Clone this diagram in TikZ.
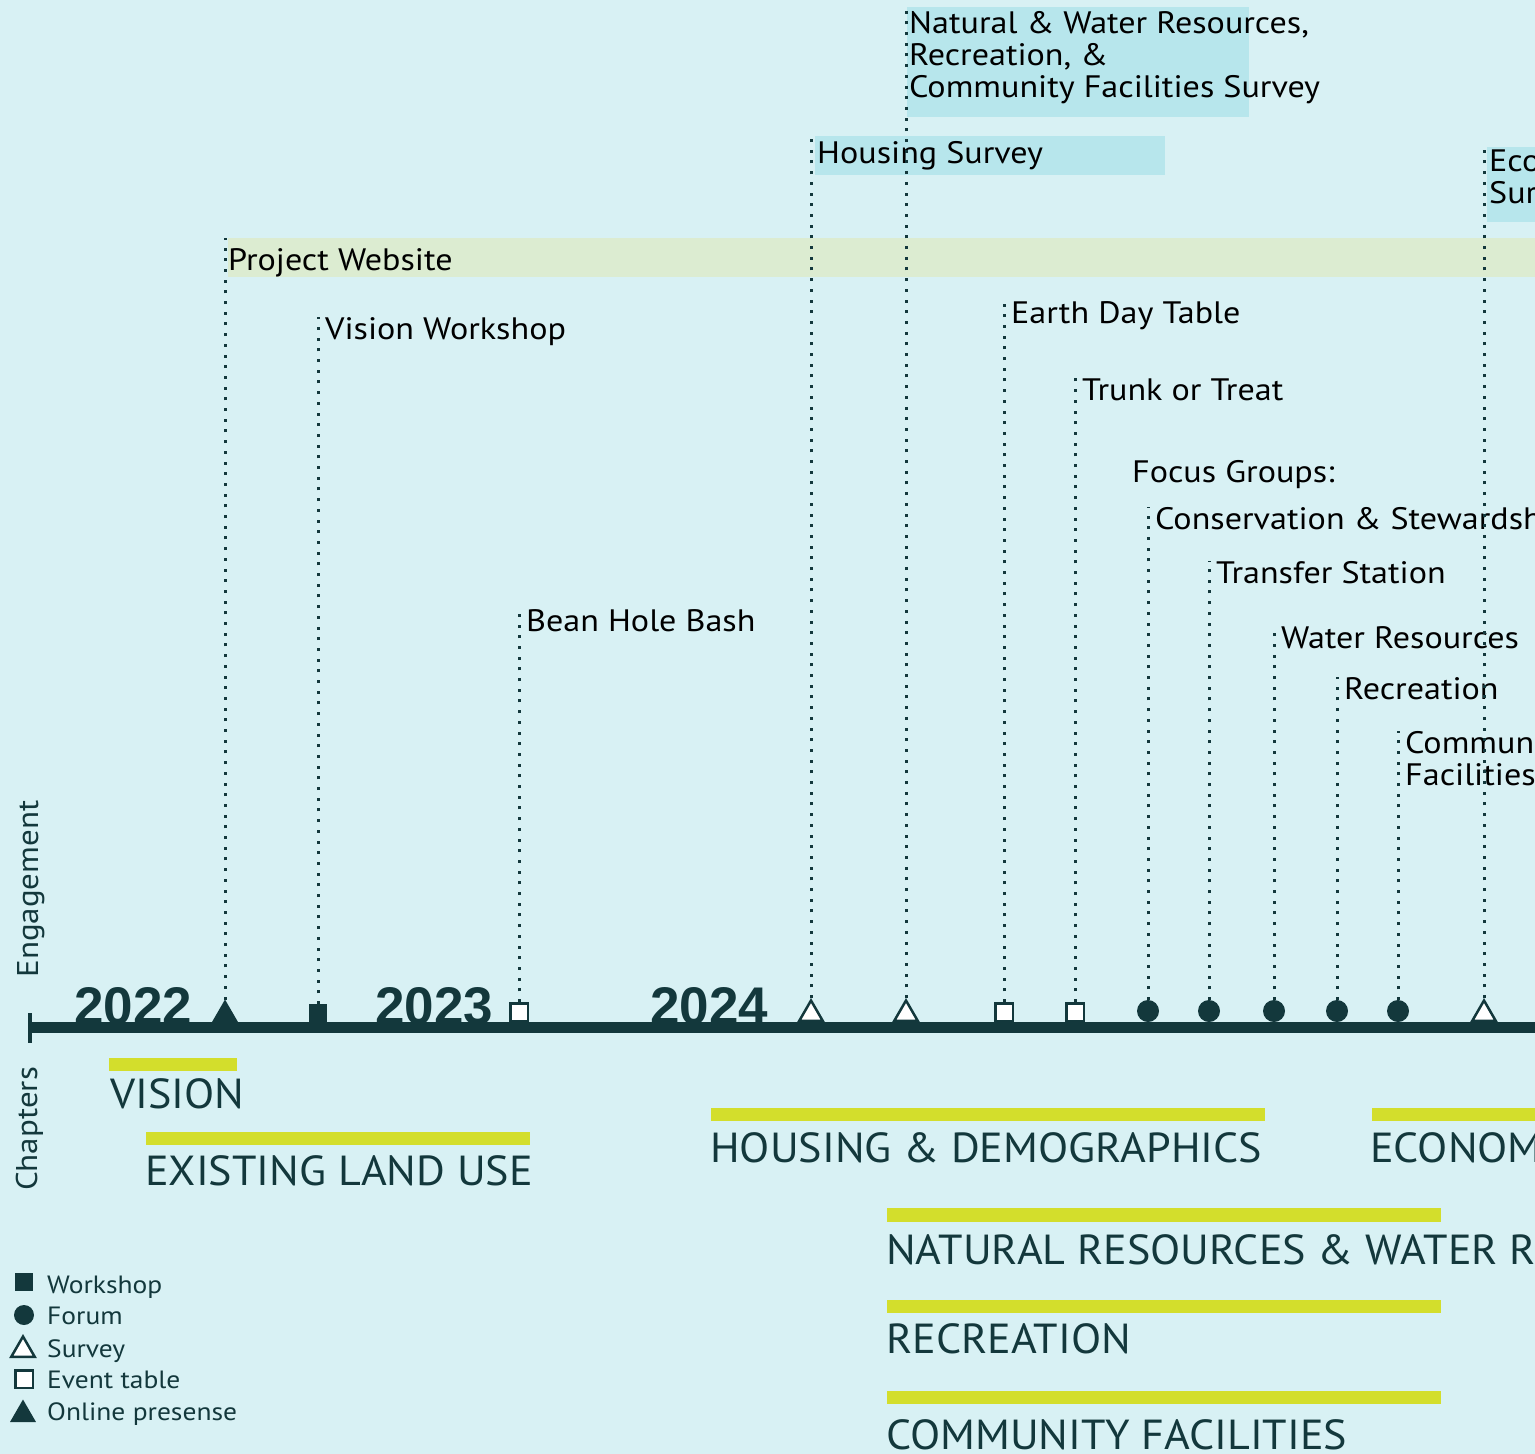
\documentclass[tikz,border=0pt]{standalone}
\usepackage{fontspec}
\setmainfont{PT Sans}[FakeStretch=1.1]
\newfontfamily\chapfont{PT Sans}[FakeStretch=1.05]
\newfontfamily\yearfont{Liberation Sans}
\usetikzlibrary{shapes.geometric}

\definecolor{paleaqua}{RGB}{216,241,244}
\definecolor{deepteal}{RGB}{19,56,60}
\definecolor{chartreuse}{RGB}{211,222,44}
\definecolor{webgreen}{RGB}{220,236,209}
\definecolor{surveyblue}{RGB}{183,230,236}

\tikzset{
  dotline/.style={deepteal, line width=3pt, dash pattern=on 3pt off 7.7pt},
  lbl/.style={anchor=base west, inner xsep=7pt, inner ysep=0pt, text=black,
    font=\fontsize{31}{32}\selectfont},
  band/.style={anchor=north west, inner sep=0pt, minimum height=39pt},
  chapter/.style={anchor=base west, inner sep=0pt, text=deepteal,
    font=\chapfont\fontsize{42}{46}\selectfont},
  year/.style={anchor=base west, inner sep=0pt, text=deepteal,
    font=\yearfont\bfseries\fontsize{53}{53}\selectfont},
  legend/.style={anchor=base west, inner sep=0pt, text=deepteal,
    font=\fontsize{25}{27}\selectfont},
  sidelbl/.style={rotate=90, anchor=base, inner sep=0pt, text=deepteal,
    font=\fontsize{30}{32}\selectfont},
  online/.style={regular polygon, regular polygon sides=3, fill=deepteal,
    inner sep=0pt, outer sep=0pt, minimum size=30pt, anchor=south},
  survey/.style={regular polygon, regular polygon sides=3, draw=deepteal,
    line width=2.5pt, fill=white, inner sep=0pt, minimum size=27pt, anchor=south},
  workshop/.style={rectangle, fill=deepteal, inner sep=0pt, outer sep=0pt,
    minimum size=18pt, anchor=south},
  evtable/.style={rectangle, draw=deepteal, line width=2.5pt, fill=white,
    inner sep=0pt, minimum size=17.5pt, anchor=south},
  forum/.style={circle, fill=deepteal, inner sep=0pt, outer sep=0pt,
    minimum size=22pt, anchor=south}
}

\begin{document}
\begin{tikzpicture}[x=1pt, y=-1pt]
\clip (0,0) rectangle (1535,1454);
\useasboundingbox (0,0) rectangle (1535,1454);
\fill[paleaqua] (0,0) rectangle (1535,1454);

% timeline
\coordinate (t0) at (30,1027);
\coordinate (t1) at (1545,1027);
\draw[deepteal, line width=11pt] (t0) -- (t1);
\draw[deepteal, line width=4pt] (30,1013) -- (30,1043);

\node[year] (y22) at (74,1024) {2022};
\node[year] (y23) at (375,1024) {2023};
\node[year] (y24) at (650,1024) {2024};

% engagement markers
\node[online] (web) at (225,1022) {};
\node[workshop] (vws) at (318,1022) {};
\node[evtable] (bean) at (519,1022) {};
\node[survey] (hsv) at (811,1022) {};
\node[survey] (nsv) at (906,1022) {};
\node[evtable] (earth) at (1004,1022) {};
\node[evtable] (trunk) at (1075,1022) {};
\node[forum] (cons) at (1148,1022) {};
\node[forum] (trans) at (1209,1022) {};
\node[forum] (water) at (1274,1022) {};
\node[forum] (rec) at (1337,1022) {};
\node[forum] (comm) at (1398,1022) {};
\node[survey] (esv) at (1484,1022) {};

% engagement labels
\node[band, fill=webgreen, minimum width=1330pt] (siteband) at (228,238) {};
\node[lbl, inner xsep=0pt] (sitel) at (228,270) {Project Website};
\node[band, fill=surveyblue, minimum width=350pt] (hband) at (815,136) {};
\node[lbl, inner xsep=0pt] (hsvl) at (817,163) {Housing Survey};
\node[band, fill=surveyblue, minimum width=342pt, minimum height=110pt] (nband) at (907,7) {};
\node[lbl, inner xsep=0pt, anchor=north west, align=left] (nsvl) at (909,11)
  {Natural \& Water Resources,\\Recreation, \&\\Community Facilities Survey};
\node[band, fill=surveyblue, minimum width=60pt, minimum height=75pt] (eband) at (1487,147) {};
\node[lbl, inner xsep=0pt, anchor=north west, align=left] (esvl) at (1489,150)
  {Economy\\Survey};

\node[lbl] (vwsl) at (318,339) {Vision Workshop};
\node[lbl] (beanl) at (519,631) {Bean Hole Bash};
\node[lbl] (earthl) at (1004,323) {Earth Day Table};
\node[lbl] (trunkl) at (1075,400) {Trunk or Treat};
\node[lbl, inner xsep=0pt] (focus) at (1132,482) {Focus Groups:};
\node[lbl] (consl) at (1148,529) {Conservation \& Stewardship};
\node[lbl] (transl) at (1209,583) {Transfer Station};
\node[lbl] (waterl) at (1274,648) {Water Resources};
\node[lbl] (recl) at (1337,699) {Recreation};
\node[lbl, anchor=north west, align=left] (comml) at (1398,731) {Community\\Facilities};

\draw[dotline] (web.north) -- (web.north |- siteband.north);
\draw[dotline] (vws.north) -- (vws.north |- vwsl.north);
\draw[dotline] (bean.north) -- (bean.north |- beanl.north);
\draw[dotline] (hsv.north) -- (hsv.north |- hband.north);
\draw[dotline] (nsv.north) -- (nsv.north |- nband.north);
\draw[dotline] (earth.north) -- (earth.north |- earthl.north);
\draw[dotline] (trunk.north) -- (trunk.north |- trunkl.north);
\draw[dotline] (cons.north) -- (cons.north |- consl.north);
\draw[dotline] (trans.north) -- (trans.north |- transl.north);
\draw[dotline] (water.north) -- (water.north |- waterl.north);
\draw[dotline] (rec.north) -- (rec.north |- recl.north);
\draw[dotline] (comm.north) -- (comm.north |- comml.north);
\draw[dotline] (esv.north) -- (esv.north |- eband.north);

% chapters
\fill[chartreuse] (109,1058) rectangle (237,1071);
\node[chapter] (vision) at (110,1108) {VISION};
\fill[chartreuse] (146,1132) rectangle (530,1145);
\node[chapter] (landuse) at (145,1185) {EXISTING LAND USE};
\fill[chartreuse] (711,1108) rectangle (1265,1121);
\node[chapter] (housing) at (710,1162) {HOUSING \& DEMOGRAPHICS};
\fill[chartreuse] (1372,1108) rectangle (1545,1121);
\node[chapter] (economy) at (1370,1162) {ECONOMY};
\fill[chartreuse] (887,1208) rectangle (1441,1222);
\node[chapter] (natural) at (886,1264) {NATURAL RESOURCES \& WATER RESOURCES};
\fill[chartreuse] (887,1300) rectangle (1441,1313);
\node[chapter] (recreation) at (886,1353) {RECREATION};
\fill[chartreuse] (887,1391) rectangle (1441,1404);
\node[chapter] (facilities) at (886,1449) {COMMUNITY FACILITIES};

\node[sidelbl] (eng) at (38,889) {Engagement};
\node[sidelbl] (chap) at (37,1129) {Chapters};

% legend
\node[workshop] (kws) at (24,1291) {};
\node[legend] (kwsl) at (47,1293) {Workshop};
\node[forum, minimum size=20pt] (kfo) at (24,1325) {};
\node[legend] (kfol) at (47,1324) {Forum};
\node[survey] (ksv) at (23,1358) {};
\node[legend] (ksvl) at (47,1357) {Survey};
\node[evtable] (ket) at (24,1389) {};
\node[legend] (ketl) at (47,1388) {Event table};
\node[online] (kon) at (23,1422) {};
\node[legend] (konl) at (47,1420) {Online presense};
\end{tikzpicture}
\end{document}
